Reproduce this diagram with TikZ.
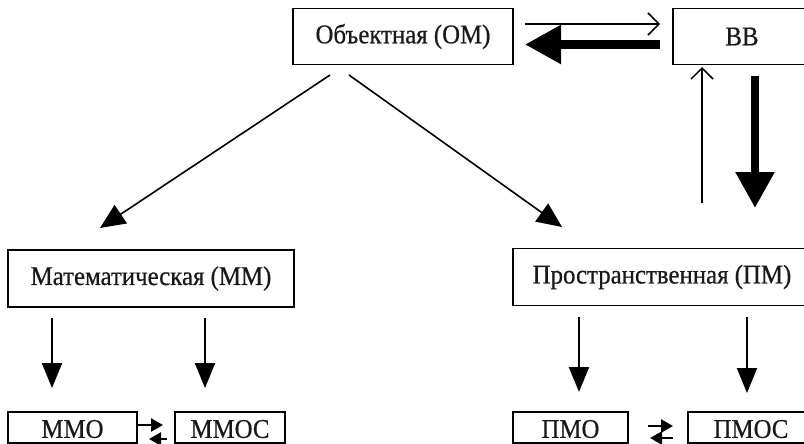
\documentclass[tikz,border=0pt]{standalone}
\usepackage{fontspec}
\usepackage{graphicx}
\setmainfont{Liberation Serif}[FakeBold=0.6]
\newfontfamily\labelfont{Liberation Serif}[FakeBold=0.6]
\newcommand{\narrowtext}[1]{\scalebox{0.92}[1]{#1}}
\usetikzlibrary{arrows.meta}
\begin{document}
\begin{tikzpicture}[x=1pt,y=-1pt,
  box/.style={draw, line width=1.5pt, inner sep=0pt, font=\labelfont\fontsize{27}{30}\selectfont, text=black!90},
  lowbox/.style={box, minimum height=31pt, text height=21pt, text depth=0.3pt},
  thinbarb/.style={line width=1.5pt, -{Straight Barb[length=11pt,width=22pt,line width=1.5pt]}},
  fatarrow/.style={line width=8.5pt, -{Triangle[length=36pt,width=37pt]}},
  diagarrow/.style={line width=1.6pt, -{Triangle[length=25pt,width=22pt]}},
  downarrow/.style={line width=2pt, -{Triangle[length=25pt,width=20pt]}},
  smallarrow/.style={line width=2.5pt, -{Triangle[length=12pt,width=13pt]}}]
\useasboundingbox (0,0) rectangle (804,444);
\clip (0,0) rectangle (804,444);
\fill[white] (0,0) rectangle (804,444);

\node[box, minimum width=220pt, minimum height=56pt] (om) at (403,36.5) {\narrowtext{Объектная (ОМ)}};
\node[box, minimum width=138pt, minimum height=56pt] (bb) at (742,36.5) {\narrowtext{ВВ}};
\node[box, minimum width=286pt, minimum height=57pt] (mm) at (151,278.5) {\narrowtext{Математическая (ММ)}};
\node[box, minimum width=298pt, minimum height=57pt] (pm) at (662,277) {\narrowtext{Пространственная (ПМ)}};
\node[lowbox, minimum width=129pt] (mmo) at (72.5,427.5) {\narrowtext{ММО}};
\node[lowbox, minimum width=110pt] (mmoc) at (230,427.5) {\narrowtext{ММОС}};
\node[lowbox, minimum width=115pt] (pmo) at (570.5,427.5) {\narrowtext{ПМО}};
\node[lowbox, minimum width=126pt] (pmoc) at (751,427.5) {\narrowtext{ПМОС}};

% top pair
\coordinate (t1) at (525,24);  \coordinate (t2) at (660,24);
\coordinate (t3) at (660,44.5); \coordinate (t4) at (525,44.5);
\draw[thinbarb] (t1) -- (t2);
\draw[fatarrow] (t3) -- (t4);

% right vertical pair
\coordinate (u1) at (702,203); \coordinate (u2) at (702,67);
\coordinate (d1) at (755,76);  \coordinate (d2) at (755,208);
\draw[thinbarb] (u1) -- (u2);
\draw[fatarrow] (d1) -- (d2);

% diagonals
\coordinate (l1) at (330,75); \coordinate (l2) at (100,228);
\coordinate (r1) at (349,75); \coordinate (r2) at (562,227);
\draw[diagarrow] (l1) -- (l2);
\draw[diagarrow] (r1) -- (r2);

% down arrows
\coordinate (a1) at (52,318);  \coordinate (a2) at (52,388);
\coordinate (b1) at (205,318); \coordinate (b2) at (205,388);
\coordinate (c1) at (579,317); \coordinate (c2) at (579,392);
\coordinate (e1) at (747,317); \coordinate (e2) at (747,393);
\draw[downarrow] (a1) -- (a2);
\draw[downarrow] (b1) -- (b2);
\draw[downarrow] (c1) -- (c2);
\draw[downarrow] (e1) -- (e2);

% small exchange arrows
\coordinate (m1) at (137,425); \coordinate (m2) at (163,425);
\coordinate (m3) at (167,439); \coordinate (m4) at (149,439);
\draw[smallarrow] (m1) -- (m2);
\draw[smallarrow] (m3) -- (m4);
\coordinate (p1) at (648,426); \coordinate (p2) at (673,426);
\coordinate (p3) at (673,438); \coordinate (p4) at (650,438);
\draw[smallarrow] (p1) -- (p2);
\draw[smallarrow] (p3) -- (p4);
\end{tikzpicture}
\end{document}
